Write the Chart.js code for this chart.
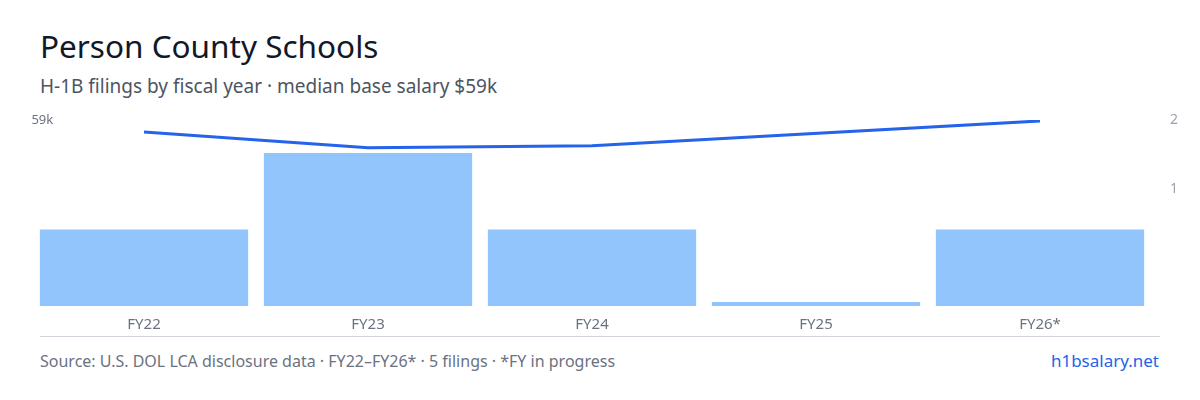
<!DOCTYPE html>
<html><head><meta charset="utf-8">
<script src="https://cdn.jsdelivr.net/npm/chart.js@4/dist/chart.umd.min.js"></script>
<style>
body{margin:0;width:1200px;height:400px;background:#fff;font-family:"Noto Sans",sans-serif;position:relative;overflow:hidden}
#t{position:absolute;left:40px;top:24px;font-size:31.5px;color:#111827}
#s{position:absolute;left:40px;top:73px;font-size:19px;color:#4b5563}
#w{position:absolute;left:32px;top:100px;width:1156px;height:236px}
#hr{position:absolute;left:40px;top:336px;width:1120px;border-top:1px solid #d1d5db}
#f{position:absolute;left:40px;top:350px;font-size:16px;color:#6b7280}
#l{position:absolute;right:41px;top:349px;font-size:17px;color:#2563eb}
</style></head><body>
<div id="t">Person County Schools</div>
<div id="s">H-1B filings by fiscal year · median base salary $59k</div>
<div id="w"><canvas id="c"></canvas></div>
<div id="hr"></div>
<div id="f">Source: U.S. DOL LCA disclosure data · FY22–FY26* · 5 filings · *FY in progress</div>
<div id="l">h1bsalary.net</div>
<script>
const categories=["FY22","FY23","FY24","FY25","FY26*"];
const filings=[1,2,1,0,1];
const medianSalary=[55200,50200,50800,null,58700];
const salaryMax=59000;
new Chart(document.getElementById('c'),{
data:{labels:categories,datasets:[
{type:'line',data:medianSalary,yAxisID:'y',borderColor:'#2563eb',borderWidth:3,pointRadius:0,spanGaps:true,tension:0,order:0},
{type:'bar',data:filings,yAxisID:'y3',backgroundColor:'#93c5fd',barPercentage:0.93,categoryPercentage:1,minBarLength:4,order:1}
]},
options:{responsive:true,maintainAspectRatio:false,animation:false,
layout:{padding:{top:20}},
plugins:{legend:{display:false},tooltip:{enabled:false}},
scales:{
x:{grid:{display:false},border:{display:false},ticks:{color:'#6b7280',font:{family:'Noto Sans',size:15},padding:2}},
y:{position:'left',min:0,max:salaryMax,grid:{display:false},border:{display:false},
 ticks:{mirror:true,padding:-8,color:'#6b7280',font:{family:'Noto Sans',size:13},stepSize:salaryMax,callback:v=>v===salaryMax?'$59k':''},afterFit:a=>{a.width=0}},
y3:{display:false,min:0,max:2.43},
y2:{position:'right',min:-0.69,max:2,grid:{display:false},border:{display:false},
 ticks:{stepSize:1,color:'#9ca3af',font:{family:'Noto Sans',size:14},padding:10,callback:v=>(v===1||v===2)?String(v):''},afterFit:a=>{a.width=36}}
}}});
</script></body></html>
